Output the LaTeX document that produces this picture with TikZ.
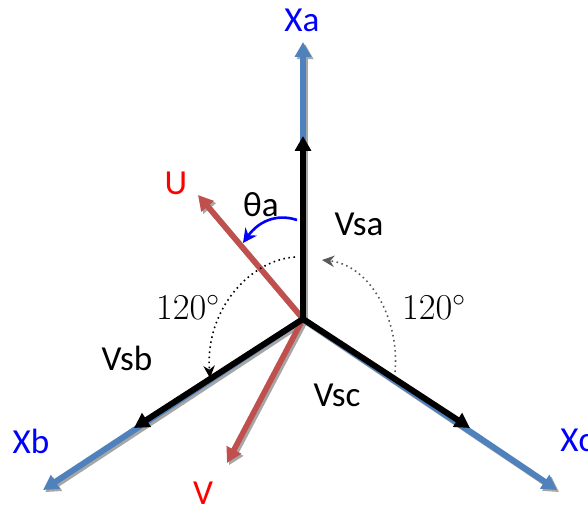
\documentclass[tikz,border=0pt]{standalone}
\usepackage{fontspec}
\setsansfont{Carlito}
\usepackage{tikz}
\usetikzlibrary{arrows.meta}
\definecolor{axblue}{HTML}{4F81BD}
\definecolor{phred}{HTML}{C0504D}
\tikzset{
  axline/.style={line width=3.4pt, draw=axblue, -{Triangle[length=8.5pt,width=9pt]}},
  phline/.style={line width=3.2pt, draw=phred, -{Triangle[length=8.5pt,width=9pt]}},
  vsline/.style={line width=3.4pt, draw=black, -{Triangle[length=8.5pt,width=9pt]}},
  shade/.style={draw=black!35, transform canvas={xshift=1.2pt,yshift=-1.2pt}},
  arcdot/.style={line width=0.9pt, dotted, -{Stealth[length=7pt,width=6.5pt]}},
  thblue/.style={line width=1.5pt, draw=blue, -{Stealth[length=8pt,width=8pt]}},
  lbl/.style={font=\sffamily\fontsize{20}{22}\selectfont, inner sep=0pt},
  deg/.style={font=\fontsize{22}{24}\selectfont, inner sep=0pt},
}
\begin{document}
\begin{tikzpicture}[x=0.02cm,y=-0.02cm]
\useasboundingbox (0,0) rectangle (588,510);
% centre and tips
\coordinate (O) at (303,319);
\coordinate (xa) at (303,42);
\coordinate (xb) at (43,490);
\coordinate (xc) at (557,490);
\coordinate (vsa) at (303,136);
\coordinate (vsb) at (134,428);
\coordinate (vsc) at (470,428);
\coordinate (u) at (198,195);
\coordinate (v) at (227,463);
% shadows
\draw[axline, shade] (O) -- (xa);
\draw[axline, shade] (O) -- (xb);
\draw[axline, shade] (O) -- (xc);
\draw[phline, shade] (O) -- (u);
\draw[phline, shade] (O) -- (v);
% axes
\draw[axline] (O) -- (xa);
\draw[axline] (O) -- (xb);
\draw[axline] (O) -- (xc);
\draw[phline] (O) -- (u);
\draw[phline] (O) -- (v);
\draw[vsline] (O) -- (vsa);
\draw[vsline] (O) -- (vsb);
\draw[vsline] (O) -- (vsc);
% angles
\coordinate (th1) at (297,220);
\coordinate (th2) at (243,243);
\coordinate (la1) at (295,257);
\coordinate (la2) at (210,378);
\coordinate (ra1) at (395,372);
\coordinate (ra2) at (322,260);
\draw[thblue] (th1) .. controls (276,213) and (258,222) .. (th2);
\draw[arcdot] (la1) .. controls (250,260) and (205,310) .. (la2);
\draw[arcdot, black!65] (ra1) .. controls (400,320) and (370,265) .. (ra2);
% labels
\node[lbl, blue] (lxa) at (302,20) {Xa};
\node[lbl, blue] (lxb) at (31,441) {Xb};
\node[lbl, blue] (lxc) at (577,440) {Xc};
\node[lbl, red] (lu) at (176,183) {U};
\node[lbl, red] (lv) at (203,493) {V};
\node[lbl] (lth) at (261,205) {θa};
\node[lbl] (lvsa) at (359,224) {Vsa};
\node[lbl] (lvsb) at (127,358) {Vsb};
\node[lbl] (lvsc) at (337,395) {Vsc};
\node[deg] (lang1) at (188,307) {$120^{\circ}$};
\node[deg] (lang2) at (434,307) {$120^{\circ}$};
\end{tikzpicture}
\end{document}
